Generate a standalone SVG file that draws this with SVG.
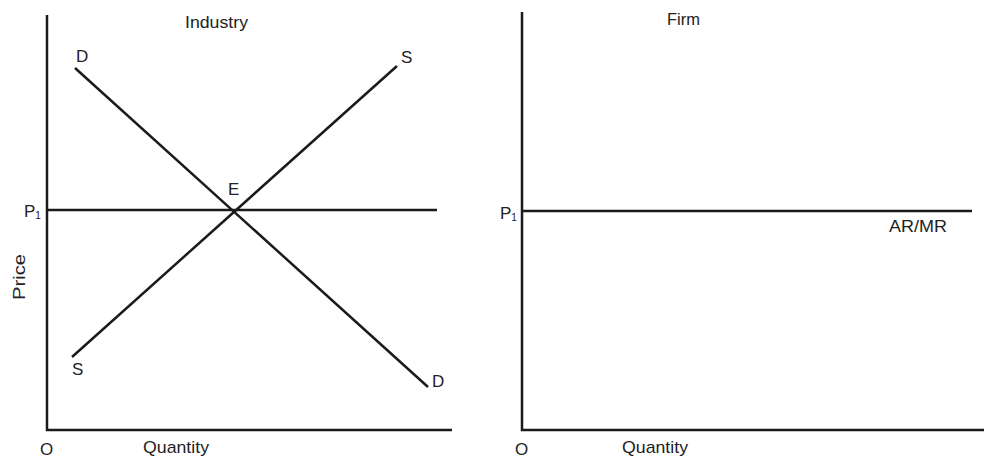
<svg xmlns="http://www.w3.org/2000/svg" width="984" height="461" viewBox="0 0 984 461">
<style>
.ln{stroke:#1a1a1a;stroke-width:2.5;fill:none;stroke-linecap:butt}
.t{font-family:"Liberation Sans",Arial,sans-serif;font-size:17px;fill:#222}
.sub{font-size:10px}
</style>
<rect width="984" height="461" fill="#ffffff"/>
<g id="industry">
  <g id="industry-axes">
    <path class="ln" d="M47 15 V430 H452"/>
  </g>
  <g id="connectors-left">
    <line class="ln" x1="47" y1="210" x2="437" y2="210"/>
    <line class="ln" x1="75" y1="68" x2="428" y2="387"/>
    <line class="ln" x1="72" y1="357" x2="397" y2="66"/>
  </g>
  <text class="t" x="185" y="28" textLength="63" lengthAdjust="spacingAndGlyphs">Industry</text>
  <text class="t" x="76" y="62">D</text>
  <text class="t" x="401" y="63">S</text>
  <text class="t" x="228" y="195">E</text>
  <text class="t" x="24" y="217">P<tspan class="sub" dy="2">1</tspan></text>
  <text class="t" x="72" y="375">S</text>
  <text class="t" x="432" y="387">D</text>
  <text class="t" x="40" y="455">O</text>
  <text class="t" x="143" y="453" textLength="66" lengthAdjust="spacingAndGlyphs">Quantity</text>
  <text class="t" transform="translate(25,277) rotate(-90)" text-anchor="middle" textLength="46" lengthAdjust="spacingAndGlyphs">Price</text>
</g>
<g id="firm">
  <g id="firm-axes">
    <path class="ln" d="M522 12 V430 H984"/>
  </g>
  <g id="connectors-right">
    <line class="ln" x1="522" y1="211" x2="972" y2="211"/>
  </g>
  <text class="t" x="667" y="25" textLength="33" lengthAdjust="spacingAndGlyphs">Firm</text>
  <text class="t" x="500" y="219">P<tspan class="sub" dy="2">1</tspan></text>
  <text class="t" x="889" y="232" textLength="58" lengthAdjust="spacingAndGlyphs">AR/MR</text>
  <text class="t" x="515" y="455">O</text>
  <text class="t" x="622" y="453" textLength="66" lengthAdjust="spacingAndGlyphs">Quantity</text>
</g>
</svg>
